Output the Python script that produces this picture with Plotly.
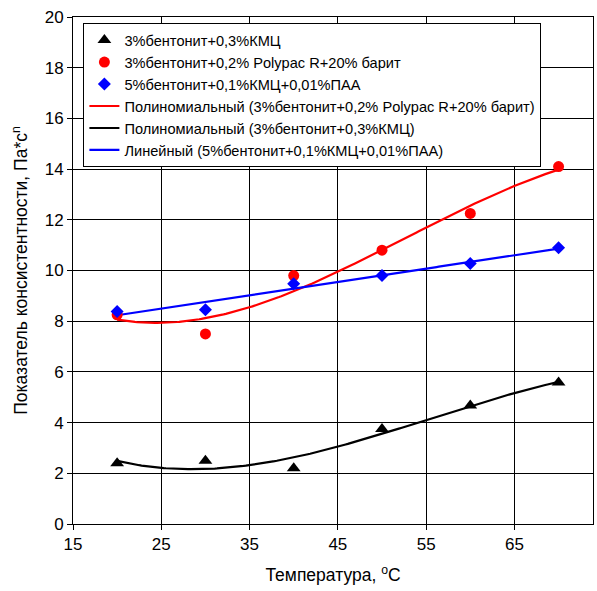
import numpy as np
import plotly.graph_objects as go

temps = [20, 30, 40, 50, 60, 70]
kmc = [2.4, 2.5, 2.2, 3.75, 4.67, 5.58]
polypac = [8.25, 7.5, 9.8, 10.8, 12.25, 14.1]
paa = [8.38, 8.45, 9.48, 9.8, 10.28, 10.9]

name_kmc = "3%бентонит+0,3%КМЦ"
name_pp = "3%бентонит+0,2% Polypac R+20% барит"
name_paa = "5%бентонит+0,1%КМЦ+0,01%ПАА"

xs = np.linspace(20, 70, 200)
fit_pp = np.polyval(np.polyfit(temps, polypac, 3), xs)
fit_kmc = np.polyval(np.polyfit(temps, kmc, 3), xs)
fit_paa = np.polyval(np.polyfit(temps, paa, 1), xs)

font = "Arial, Liberation Sans, sans-serif"
fig = go.Figure()
fig.add_trace(go.Scatter(x=xs, y=fit_pp, mode="lines", line=dict(color="#ff0000", width=2.2),
                         name="Полиномиальный (" + name_pp + ")", legendrank=4))
fig.add_trace(go.Scatter(x=xs, y=fit_kmc, mode="lines", line=dict(color="#000000", width=2.2),
                         name="Полиномиальный (" + name_kmc + ")", legendrank=5))
fig.add_trace(go.Scatter(x=xs, y=fit_paa, mode="lines", line=dict(color="#0000ff", width=2.2),
                         name="Линейный (" + name_paa + ")", legendrank=6))
fig.add_trace(go.Scatter(x=temps, y=kmc, mode="markers", name=name_kmc, legendrank=1,
                         marker=dict(symbol="triangle-up", size=12, color="#000000")))
fig.add_trace(go.Scatter(x=temps, y=polypac, mode="markers", name=name_pp, legendrank=2,
                         marker=dict(symbol="circle", size=11, color="#ff0000")))
fig.add_trace(go.Scatter(x=temps, y=paa, mode="markers", name=name_paa, legendrank=3,
                         marker=dict(symbol="diamond", size=10, color="#0000ff")))

axis_common = dict(showgrid=True, gridcolor="#000000", gridwidth=1, showline=True, linecolor="#000000",
                   linewidth=1, mirror=True, ticks="outside", ticklen=5, tickcolor="#000000",
                   zeroline=False, tickfont=dict(size=17, color="#000000", family=font))
fig.update_xaxes(range=[15, 73.9], tick0=15, dtick=10, **axis_common,
                 title=dict(text="Температура, <sup>o</sup>C", font=dict(size=17.5, color="#000000", family=font)))
fig.update_yaxes(range=[0, 20], tick0=0, dtick=2, **axis_common,
                 title=dict(text="Показатель консистентности, Па*с<sup>n</sup>", standoff=12,
                            font=dict(size=17.5, color="#000000", family=font)))
fig.update_layout(
    width=597, height=591,
    margin=dict(l=73, r=4, t=17, b=67),
    plot_bgcolor="#ffffff", paper_bgcolor="#ffffff",
    font=dict(family=font, color="#000000"),
    legend=dict(x=0.02, y=0.988, xanchor="left", yanchor="top", bgcolor="#ffffff",
                bordercolor="#000000", borderwidth=1, font=dict(size=14.6, color="#000000", family=font)),
)
fig.write_html("out.html")
